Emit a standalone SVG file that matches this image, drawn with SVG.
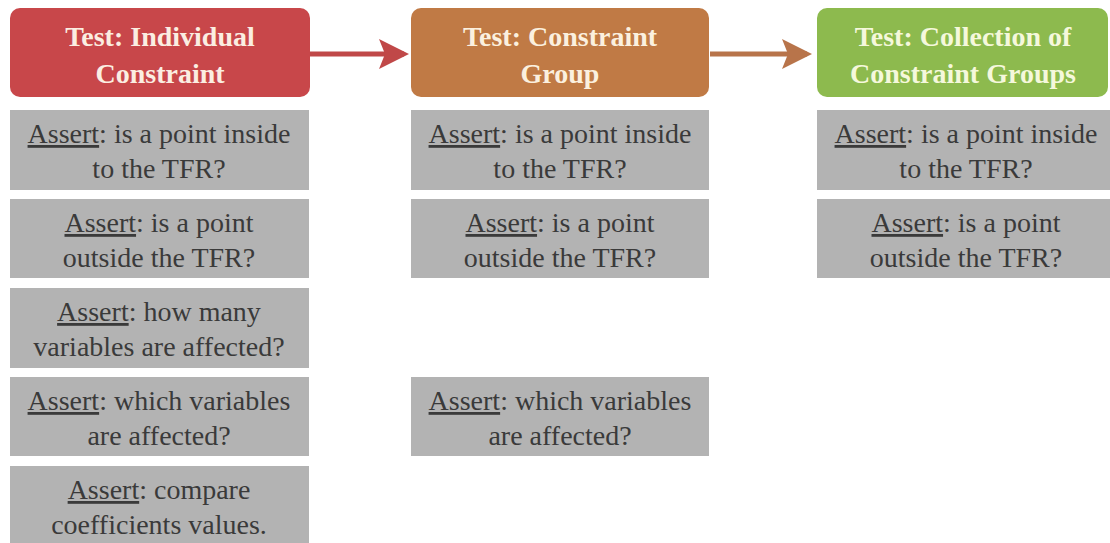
<svg xmlns="http://www.w3.org/2000/svg" width="1110" height="543" viewBox="0 0 1110 543">
<defs>
<style>
.hdr{font-family:'Liberation Serif','Times New Roman','DejaVu Serif',serif;font-weight:bold;font-size:28px;text-anchor:middle}
.box{fill:#b3b3b3}
.t{font-family:'Liberation Serif','Times New Roman','DejaVu Serif',serif;font-size:28px;fill:#3a3a3a;text-anchor:middle}
.u{text-decoration:underline}
</style>
<marker id="ah1" markerWidth="6" markerHeight="6" refX="5" refY="3" orient="auto" markerUnits="strokeWidth"><path d="M0,0 L6,3 L0,6 L1.2,3 Z" fill="#c04848"/></marker>
<marker id="ah2" markerWidth="6" markerHeight="6" refX="5" refY="3" orient="auto" markerUnits="strokeWidth"><path d="M0,0 L6,3 L0,6 L1.2,3 Z" fill="#b8744a"/></marker>
</defs>
<rect width="1110" height="543" fill="#ffffff"/>
<g id="connectors">
<line x1="310" y1="54" x2="404" y2="54" stroke="#c04848" stroke-width="5" marker-end="url(#ah1)"/>
<line x1="710" y1="54" x2="807" y2="54" stroke="#b8744a" stroke-width="5" marker-end="url(#ah2)"/>
</g>
<g id="h1">
<rect x="10" y="8" width="300" height="89" rx="10" fill="#c8474a"/>
<text class="hdr" fill="#fbeee2" font-family="Liberation Serif, serif"><tspan x="160" y="46">Test: Individual</tspan><tspan x="160" y="83">Constraint</tspan></text>
</g>
<g id="h2">
<rect x="411" y="8" width="298" height="89" rx="10" fill="#c07a45"/>
<text class="hdr" fill="#fbf0df"><tspan x="560" y="46">Test: Constraint</tspan><tspan x="560" y="83">Group</tspan></text>
</g>
<g id="h3">
<rect x="817" y="8" width="291" height="89" rx="10" fill="#8dba4e"/>
<text class="hdr" fill="#f5f8dc"><tspan x="963" y="46">Test: Collection of</tspan><tspan x="963" y="83">Constraint Groups</tspan></text>
</g>
<g id="c1a"><rect class="box" x="10" y="110" width="299" height="80"/>
<text class="t"><tspan x="159" y="143"><tspan class="u">Assert</tspan>: is a point inside</tspan><tspan x="159" y="178">to the TFR?</tspan></text></g>
<g id="c1b"><rect class="box" x="10" y="199" width="299" height="79"/>
<text class="t"><tspan x="159" y="232"><tspan class="u">Assert</tspan>: is a point</tspan><tspan x="159" y="267">outside the TFR?</tspan></text></g>
<g id="c1c"><rect class="box" x="10" y="288" width="299" height="80"/>
<text class="t"><tspan x="159" y="321"><tspan class="u">Assert</tspan>: how many</tspan><tspan x="159" y="356">variables are affected?</tspan></text></g>
<g id="c1d"><rect class="box" x="10" y="377" width="299" height="79"/>
<text class="t"><tspan x="159" y="410"><tspan class="u">Assert</tspan>: which variables</tspan><tspan x="159" y="445">are affected?</tspan></text></g>
<g id="c1e"><rect class="box" x="10" y="466" width="299" height="80"/>
<text class="t"><tspan x="159" y="499"><tspan class="u">Assert</tspan>: compare</tspan><tspan x="159" y="534">coefficients values.</tspan></text></g>
<g id="c2a"><rect class="box" x="411" y="110" width="298" height="80"/>
<text class="t"><tspan x="560" y="143"><tspan class="u">Assert</tspan>: is a point inside</tspan><tspan x="560" y="178">to the TFR?</tspan></text></g>
<g id="c2b"><rect class="box" x="411" y="199" width="298" height="79"/>
<text class="t"><tspan x="560" y="232"><tspan class="u">Assert</tspan>: is a point</tspan><tspan x="560" y="267">outside the TFR?</tspan></text></g>
<g id="c2d"><rect class="box" x="411" y="377" width="298" height="79"/>
<text class="t"><tspan x="560" y="410"><tspan class="u">Assert</tspan>: which variables</tspan><tspan x="560" y="445">are affected?</tspan></text></g>
<g id="c3a"><rect class="box" x="817" y="110" width="293" height="80"/>
<text class="t"><tspan x="966" y="143"><tspan class="u">Assert</tspan>: is a point inside</tspan><tspan x="966" y="178">to the TFR?</tspan></text></g>
<g id="c3b"><rect class="box" x="817" y="199" width="293" height="79"/>
<text class="t"><tspan x="966" y="232"><tspan class="u">Assert</tspan>: is a point</tspan><tspan x="966" y="267">outside the TFR?</tspan></text></g>
</svg>
